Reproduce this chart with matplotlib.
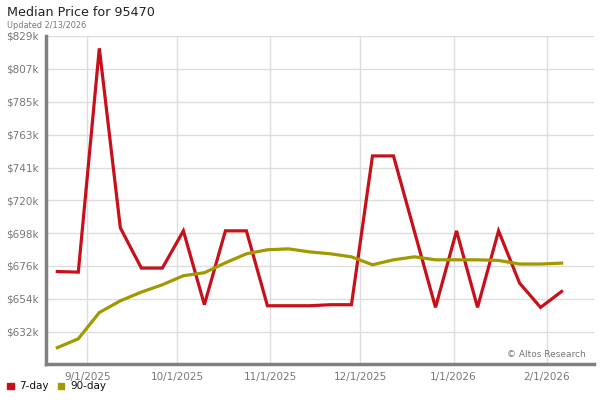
import matplotlib
matplotlib.use("Agg")
import matplotlib.pyplot as plt
import matplotlib.dates as mdates
import numpy as np
from datetime import date, timedelta

# Weekly data points (Fridays)
start = date(2025, 8, 22)
dates = [start + timedelta(days=7 * i) for i in range(25)]

# Median price in $k
day7 = [672.1, 671.7, 820.8, 701.2, 674.4, 674.4, 699.2, 650.0, 699.2, 699.2,
        649.3, 649.3, 649.3, 650.0, 650.0, 749.1, 749.1, 698.6, 648.2, 699.2,
        648.2, 699.2, 664.4, 648.2, 658.8]
day90 = [621.4, 627.3, 644.8, 652.6, 658.4, 663.3, 669.3, 671.3, 677.9, 683.9,
         686.6, 687.2, 685.2, 683.9, 681.9, 676.6, 679.9, 681.9, 679.9, 679.9,
         679.9, 679.5, 677.1, 677.1, 677.7]

ytick_vals = [632.0, 653.9, 675.8, 697.7, 719.6, 741.4, 763.3, 785.2, 807.1, 829.0]
ytick_labels = ['$632k', '$654k', '$676k', '$698k', '$720k', '$741k', '$763k',
                '$785k', '$807k', '$829k']
xtick_dates = [date(2025, 9, 1), date(2025, 10, 1), date(2025, 11, 1),
               date(2025, 12, 1), date(2026, 1, 1), date(2026, 2, 1)]
xtick_labels = ['9/1/2025', '10/1/2025', '11/1/2025', '12/1/2025', '1/1/2026', '2/1/2026']

red = '#c8101a'
olive = '#a09a00'
gray = '#777777'

fig = plt.figure(figsize=(6, 4), dpi=100)
ax = fig.add_axes([0.076, 0.09, 0.914, 0.82])

ax.plot(dates, day7, color=red, lw=2.3, solid_joinstyle='miter', zorder=3)
ax.plot(dates, day90, color=olive, lw=2.3, zorder=3)

ax.set_ylim(610.5, 829.0)
x0 = mdates.date2num(date(2025, 9, 1))
ax.set_xlim(x0 - 13.9, x0 + 168.8)

ax.set_yticks(ytick_vals)
ax.set_yticklabels(ytick_labels)
ax.set_xticks([mdates.date2num(d) for d in xtick_dates])
ax.set_xticklabels(xtick_labels)
ax.tick_params(axis='both', length=0, labelsize=7.5, colors=gray)
ax.tick_params(axis='y', pad=5)
ax.tick_params(axis='x', pad=6)

ax.grid(True, color='#dddddd', lw=1)
ax.set_axisbelow(True)
for s in ['top', 'right']:
    ax.spines[s].set_visible(False)
for s in ['left', 'bottom']:
    ax.spines[s].set_color('#808080')
    ax.spines[s].set_linewidth(2.5)

fig.text(0.012, 0.97, 'Median Price for 95470', fontsize=9.2, color='#222222', va='center')
fig.text(0.012, 0.937, 'Updated 2/13/2026', fontsize=5.9, color=gray, va='center')
ax.text(0.985, 0.015, '\u00a9 Altos Research', transform=ax.transAxes, fontsize=6.5,
        color=gray, ha='right', va='bottom')

# Legend
fig.patches.append(plt.Rectangle((0.012, 0.027), 0.011, 0.016, transform=fig.transFigure,
                                 color=red, figure=fig))
fig.text(0.032, 0.035, '7-day', fontsize=7.5, va='center', color='#111111')
fig.patches.append(plt.Rectangle((0.096, 0.027), 0.011, 0.016, transform=fig.transFigure,
                                 color=olive, figure=fig))
fig.text(0.117, 0.035, '90-day', fontsize=7.5, va='center', color='#111111')

fig.savefig('out.png', dpi=100)
